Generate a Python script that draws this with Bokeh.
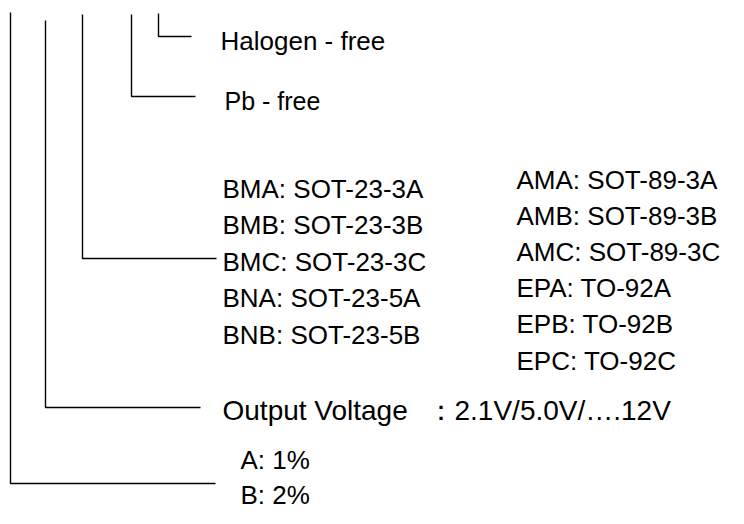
from bokeh.plotting import figure
from bokeh.models import Range1d, ColumnDataSource
from bokeh.embed import file_html
from bokeh.resources import INLINE
from bokeh.core.properties import value

# ---- content of the diagram (labels) ----
halogen_label = ["Halogen - free"]
pb_label = ["Pb - free"]
package_left = ["BMA: SOT-23-3A", "BMB: SOT-23-3B", "BMC: SOT-23-3C",
                "BNA: SOT-23-5A", "BNB: SOT-23-5B"]
package_right = ["AMA: SOT-89-3A", "AMB: SOT-89-3B", "AMC: SOT-89-3C",
                 "EPA: TO-92A", "EPB: TO-92B", "EPC: TO-92C"]
voltage_name = ["Output Voltage"]
voltage_values = ["\uff1a2.1V/5.0V/\u2026.12V"]
accuracy_labels = ["A: 1%", "B: 2%"]

# ---- layout (pixels) ----
W, H = 728, 508
# brackets: vertical x, top y, corner y, horizontal end x
br_x = [10, 45, 82, 131, 158]
br_top = [12, 20, 14, 14, 13]
br_corner = [483, 407, 258, 96, 36]
br_end = [215, 200, 216, 195, 191]

FONT = value("Liberation Sans")
FS = "26px"

p = figure(width=W, height=H, output_backend="svg", toolbar_location=None,
           x_range=Range1d(0, W), y_range=Range1d(H, 0),
           min_border=0, outline_line_color=None)
p.axis.visible = False
p.grid.visible = False
p.background_fill_color = "white"
p.border_fill_color = "white"

xs = [[x, x, e] for x, e in zip(br_x, br_end)]
ys = [[t, c, c] for t, c in zip(br_top, br_corner)]
p.multi_line(xs=xs, ys=ys, line_color="black", line_width=1.4)

def add_text(labels, x, y0, dy, size=FS):
    src = ColumnDataSource(dict(
        x=[x] * len(labels),
        y=[y0 + i * dy for i in range(len(labels))],
        t=labels))
    p.text(x="x", y="y", text="t", source=src, text_font=FONT,
           text_font_size=size, text_baseline="middle", text_align="left",
           text_color="black")

add_text(halogen_label, 220, 40, 0)
add_text(pb_label, 224, 100, 0, "25px")
add_text(package_left, 222, 188, 36.5)
add_text(package_right, 516, 179, 36.2)
add_text(voltage_name, 222, 410, 0, "28px")
add_text(voltage_values, 426, 410, 0, "28px")
add_text(accuracy_labels, 240, 459, 35)

open("out.html", "w").write(file_html(p, INLINE))
